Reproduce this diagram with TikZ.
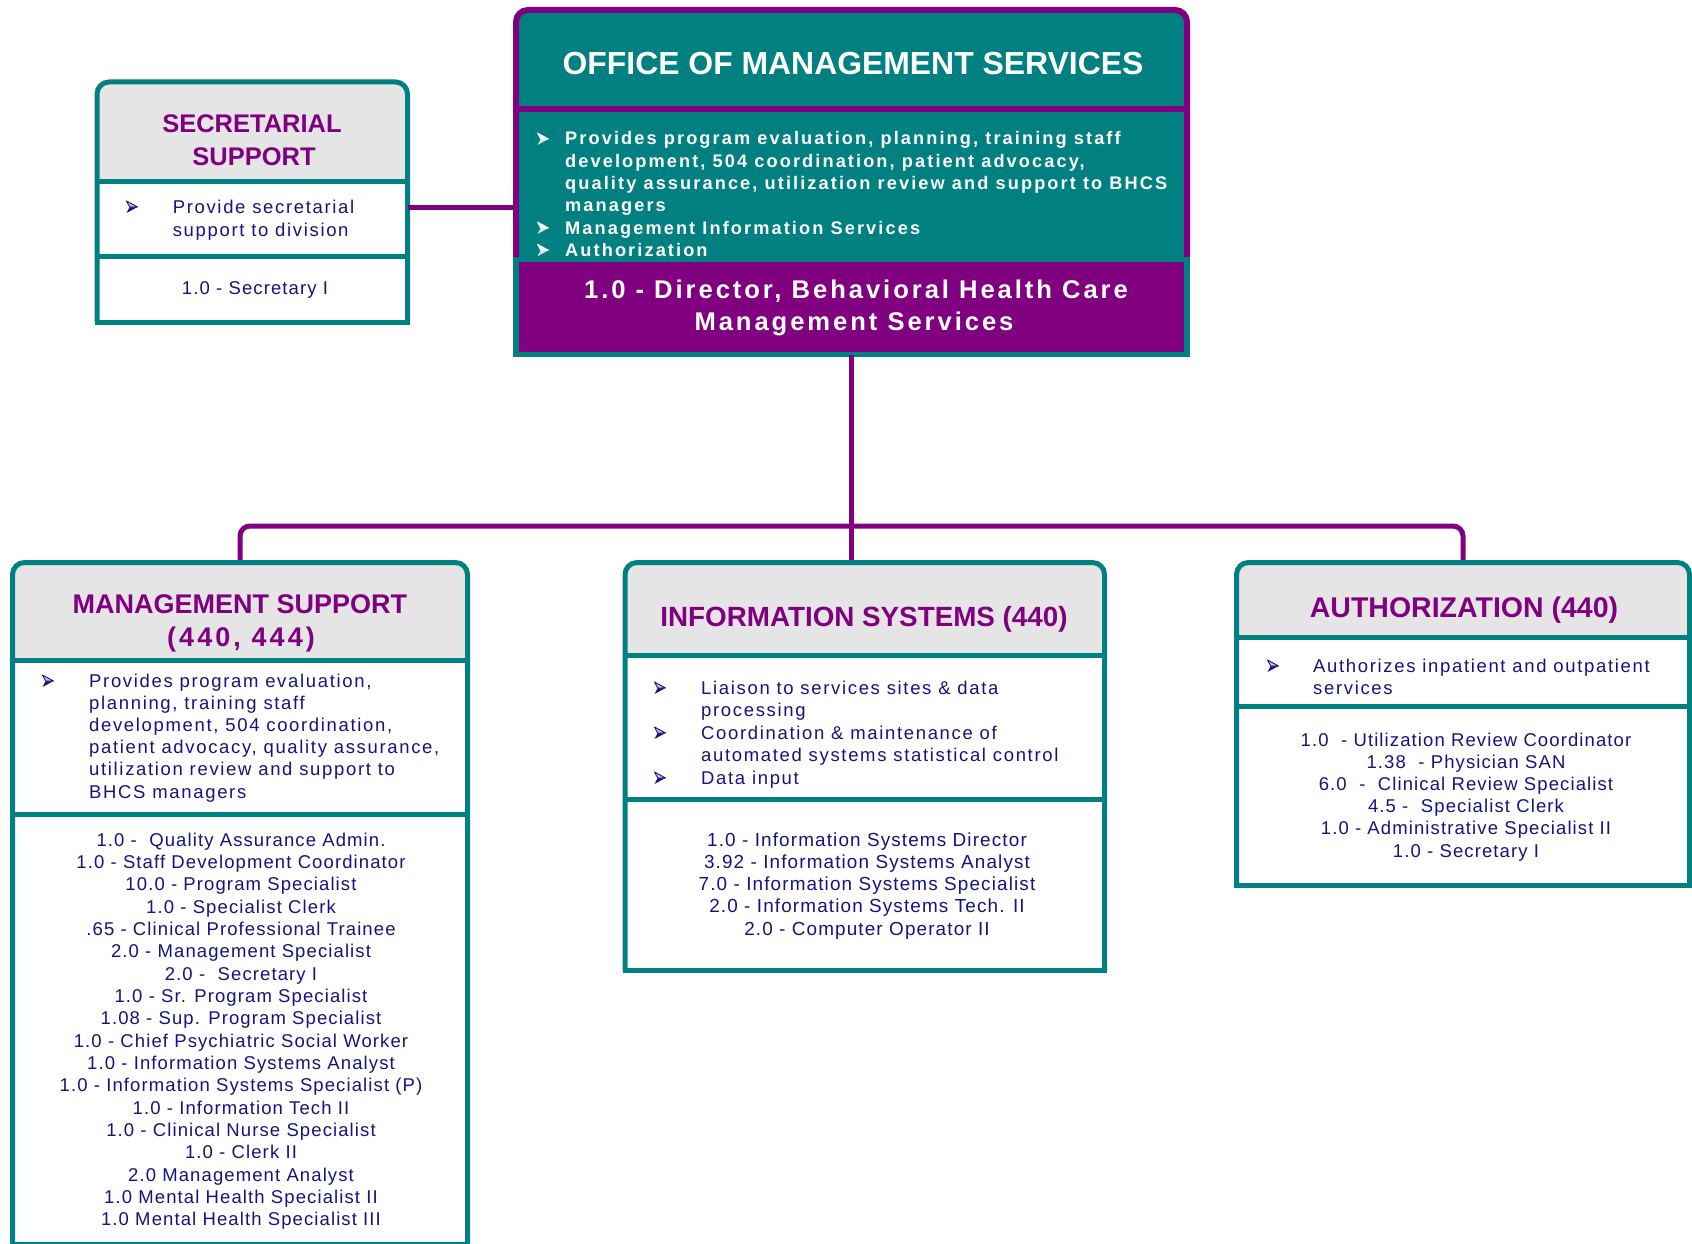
\documentclass[tikz,border=0pt]{standalone}
\usepackage{fontspec}
\setmainfont{Liberation Sans}
\newfontfamily\bodyfont[LetterSpace=9]{Liberation Sans}
\newfontfamily\stafffont[LetterSpace=6]{Liberation Sans}
\newfontfamily\trackb[LetterSpace=11.5]{Liberation Sans}
\usetikzlibrary{fit}
\definecolor{tealc}{RGB}{0,128,128}
\definecolor{purc}{RGB}{128,0,128}
\definecolor{grayc}{RGB}{229,229,229}
\definecolor{navyc}{RGB}{20,20,128}
\tikzset{
  frame/.style={draw=tealc, line width=5pt},
  link/.style={draw=purc, line width=5pt},
  hdr/.style={text=purc, font=\fontsize{27}{32}\selectfont\bfseries, inner sep=0pt, anchor=base},
  bul/.style={text=navyc, font=\bodyfont\fontsize{18.5}{22}\selectfont, inner sep=0pt, anchor=base west},
  stf/.style={text=navyc, font=\stafffont\fontsize{18.5}{22}\selectfont, inner sep=0pt, anchor=base},
  wbul/.style={text=white, font=\trackb\bfseries\fontsize{18.2}{22}\selectfont, inner sep=0pt, anchor=base west},
  navyarrow/.pic={
    \fill[navyc] (0,6) -- (11,0) -- (3.2,0) -- cycle;
    \filldraw[fill=navyc!25, draw=navyc, line width=0.9pt, line join=round] (0,-6) -- (11,0) -- (3.2,0) -- cycle;
  },
  whitearrow/.pic={
    \fill[white!80!tealc] (0,6) -- (11,0) -- (3.2,0) -- cycle;
    \filldraw[fill=white, draw=white, line width=0.9pt, line join=round] (0,-6) -- (11,0) -- (3.2,0) -- cycle;
  },
}
\newcommand{\orgbox}[7]{%
  \fill[grayc,rounded corners=12pt] (#2,#6) -- (#2,#3) -- (#4,#3) -- (#4,#6);
  \draw[frame,rounded corners=12pt] (#2,#5) -- (#2,#3) -- (#4,#3) -- (#4,#5);
  \draw[frame,line cap=rect] (#2,#5) -- (#4,#5);
  \draw[frame] (#2,#6) -- (#4,#6);
  \draw[frame] (#2,#7) -- (#4,#7);
  \node[fit={(#2,#3) (#4,#5)}, inner sep=0pt] (#1) {};
}
\begin{document}
\begin{tikzpicture}[x=1pt,y=-1pt]
\useasboundingbox (0,0) rectangle (1692,1244);

% ---------- Office of management services ----------
\fill[tealc,rounded corners=12pt] (516,259.5) -- (516,10) -- (1187,10) -- (1187,259.5);
\draw[purc,line width=6pt,rounded corners=12pt] (516,259.5) -- (516,10) -- (1187,10) -- (1187,259.5);
\draw[purc,line width=6pt] (516,109) -- (1187,109);
\node[fit={(516,10) (1187,354.5)}, inner sep=0pt] (off) {};
\node[text=white, font=\fontsize{31.9}{36}\selectfont\bfseries, inner sep=0pt, anchor=base] (offt) at (853,75) {OFFICE OF MANAGEMENT SERVICES};
\foreach \t [count=\i from 0] in {{Provides program evaluation, planning, training staff},{development, 504 coordination, patient advocacy,},{quality assurance, utilization review and support to BHCS},{managers},{Management Information Services},{Authorization}}
  \node[wbul] (offb\i) at (565,145+22.25*\i) {\t};
\foreach \i in {0,4,5}
  \pic (offa\i) at (537.5,139+22.25*\i) {whitearrow};
% director
\fill[purc] (516,259.5) rectangle (1187,354.5);
\draw[tealc,line width=5.5pt] (516,259.5) rectangle (1187,354.5);
\node[fit={(516,259.5) (1187,354.5)}, inner sep=0pt] (dir) {};
\node[text=white, font=\trackb\bfseries\fontsize{25.6}{30}\selectfont, inner sep=0pt, anchor=base] (dir1) at (856,298) {1.0 - Director, Behavioral Health Care};
\node[text=white, font=\trackb\bfseries\fontsize{25.6}{30}\selectfont, inner sep=0pt, anchor=base] (dir2) at (854,330) {Management Services};

% ---------- Secretarial support ----------
\orgbox{sec}{97}{82}{407.5}{322}{181}{256}
\coordinate (secR) at (407.5,207.5);
\draw[link] (secR) -- (secR -| off.west);
\node[hdr, font=\fontsize{25.5}{30}\selectfont\bfseries] (sech1) at (252,133) {SECRETARIAL};
\node[hdr, font=\fontsize{25.5}{30}\selectfont\bfseries] (sech2) at (254,165) {SUPPORT};
\pic (seca) at (126.5,207) {navyarrow};
\node[bul] (secb1) at (172.6,213) {Provide secretarial};
\node[bul] (secb2) at (172.6,236) {support to division};
\node[stf] (secs1) at (255,294) {1.0 - Secretary I};

% ---------- connectors ----------
\coordinate (bus) at (852,526);

% ---------- Management support ----------
\orgbox{ms}{12.5}{562.5}{467.5}{1244.5}{660.5}{814.5}
% ---------- Information systems ----------
\orgbox{is}{625}{562.5}{1104.5}{970.5}{655.5}{799.5}
% ---------- Authorization ----------
\orgbox{au}{1236.5}{562.5}{1689.5}{885.5}{637.5}{706.5}

\draw[link] (dir.south) -- (dir.south |- is.north);
\draw[link,rounded corners=10pt] (ms.north) |- (bus) -| (au.north);
% redraw top borders over connector ends
\draw[frame] (12.5+12,562.5) -- (467.5-12,562.5);
\draw[frame] (625+12,562.5) -- (1104.5-12,562.5);
\draw[frame] (1236.5+12,562.5) -- (1689.5-12,562.5);

\node[hdr] (msh1) at (240,613) {MANAGEMENT SUPPORT};
\node[hdr, font=\trackb\bfseries\fontsize{27}{32}\selectfont] (msh2) at (241,646) {(440, 444)};
\pic (msa) at (42.5,681) {navyarrow};
\foreach \t [count=\i from 0] in {{Provides program evaluation,},{planning, training staff},{development, 504 coordination,},{patient advocacy, quality assurance,},{utilization review and support to},{BHCS managers}}
  \node[bul] (msb\i) at (89,687+22.2*\i) {\t};
\foreach \t [count=\i from 0] in {{1.0 -\ \ Quality Assurance Admin.},{1.0 - Staff Development Coordinator},{10.0 - Program Specialist},{1.0 - Specialist Clerk},{.65 - Clinical Professional Trainee},{2.0 - Management Specialist},{2.0 -\ \ Secretary I},{1.0 - Sr. Program Specialist},{1.08 - Sup. Program Specialist},{1.0 - Chief Psychiatric Social Worker},{1.0 - Information Systems Analyst},{1.0 - Information Systems Specialist (P)},{1.0 - Information Tech II},{1.0 - Clinical Nurse Specialist},{1.0 - Clerk II},{2.0 Management Analyst},{1.0 Mental Health Specialist II},{1.0 Mental Health Specialist III}}
  \node[stf] (mss\i) at (241,846+22.35*\i) {\t};

\node[hdr, font=\fontsize{27.8}{32}\selectfont\bfseries] (ish) at (864,626) {INFORMATION SYSTEMS (440)};
\foreach \t [count=\i from 0] in {{Liaison to services sites \& data},{processing},{Coordination \& maintenance of},{automated systems statistical control},{Data input}}
  \node[bul] (isb\i) at (701,694+22.5*\i) {\t};
\foreach \i in {0,2,4}
  \pic (isa\i) at (654.5,688+22.5*\i) {navyarrow};
\foreach \t [count=\i from 0] in {{1.0 - Information Systems Director},{3.92 - Information Systems Analyst},{7.0 - Information Systems Specialist},{2.0 - Information Systems Tech. II},{2.0 - Computer Operator II}}
  \node[stf, font=\stafffont\fontsize{18.9}{22}\selectfont] (iss\i) at (867,846+22.3*\i) {\t};

\node[hdr, font=\fontsize{28.5}{32}\selectfont\bfseries] (auh) at (1464,617) {AUTHORIZATION (440)};
\pic (aua) at (1267.5,666) {navyarrow};
\node[bul] (aub1) at (1313,672) {Authorizes inpatient and outpatient};
\node[bul] (aub2) at (1313,694) {services};
\foreach \t [count=\i from 0] in {{1.0 \ - Utilization Review Coordinator},{1.38 \ - Physician SAN},{6.0 \ - \ Clinical Review Specialist},{4.5 - \ Specialist Clerk},{1.0 - Administrative Specialist II},{1.0 - Secretary I}}
  \node[stf] (aus\i) at (1466,746+22.2*\i) {\t};
\end{tikzpicture}
\end{document}
